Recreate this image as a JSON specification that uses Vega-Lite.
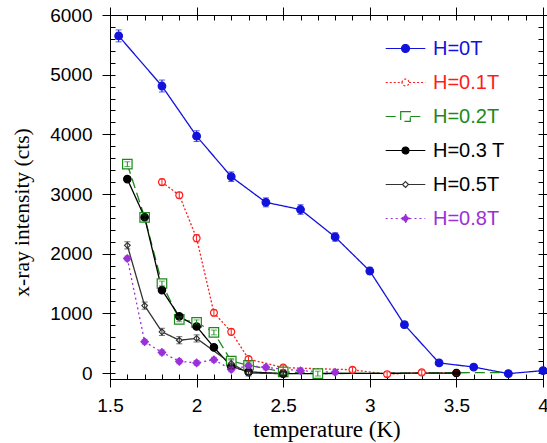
{
  "$schema": "https://vega.github.io/schema/vega-lite/v6.json",
  "width": 433,
  "height": 364,
  "autosize": {"type": "none"},
  "padding": {"left": 110, "top": 15, "right": 4, "bottom": 64},
  "background": "white",
  "config": {
    "view": {"stroke": "#000000", "strokeWidth": 1},
    "axis": {"domain": false, "grid": false, "tickColor": "#000000", "tickWidth": 1, "labelColor": "#000000", "titleColor": "#000000"},
    "legend": {"orient": "none", "legendX": 278, "legendY": 16, "padding": 0, "symbolSize": 1089, "symbolStrokeWidth": 1.2, "rowPadding": 6, "labelOffset": 10, "labelFont": "Liberation Sans", "labelFontSize": 20, "labelLimit": 200}
  },
  "data": {"values": [
    {"H": "H=0T", "T": 1.55, "I": 5650, "e": 100},
    {"H": "H=0T", "T": 1.8, "I": 4810, "e": 100},
    {"H": "H=0T", "T": 2.0, "I": 3970, "e": 90},
    {"H": "H=0T", "T": 2.2, "I": 3290, "e": 80},
    {"H": "H=0T", "T": 2.4, "I": 2860, "e": 75},
    {"H": "H=0T", "T": 2.6, "I": 2740, "e": 80},
    {"H": "H=0T", "T": 2.8, "I": 2280, "e": 70},
    {"H": "H=0T", "T": 3.0, "I": 1710, "e": 60},
    {"H": "H=0T", "T": 3.2, "I": 810, "e": 50},
    {"H": "H=0T", "T": 3.4, "I": 170, "e": 40},
    {"H": "H=0T", "T": 3.6, "I": 100, "e": 40},
    {"H": "H=0T", "T": 3.8, "I": -10, "e": 40},
    {"H": "H=0T", "T": 4.0, "I": 40, "e": 40},
    {"H": "H=0.1T", "T": 1.8, "I": 3200, "e": 50},
    {"H": "H=0.1T", "T": 1.9, "I": 2980, "e": 50},
    {"H": "H=0.1T", "T": 2.0, "I": 2260, "e": 60},
    {"H": "H=0.1T", "T": 2.1, "I": 1010, "e": 50},
    {"H": "H=0.1T", "T": 2.2, "I": 690, "e": 50},
    {"H": "H=0.1T", "T": 2.3, "I": 235, "e": 40},
    {"H": "H=0.1T", "T": 2.5, "I": 90, "e": 40},
    {"H": "H=0.1T", "T": 2.9, "I": 55, "e": 40},
    {"H": "H=0.1T", "T": 3.1, "I": -20, "e": 40},
    {"H": "H=0.1T", "T": 3.3, "I": 10, "e": 40},
    {"H": "H=0.1T", "T": 3.5, "I": 0, "e": 40},
    {"H": "H=0.2T", "T": 1.6, "I": 3500, "e": 40},
    {"H": "H=0.2T", "T": 1.7, "I": 2610, "e": 40},
    {"H": "H=0.2T", "T": 1.8, "I": 1500, "e": 40},
    {"H": "H=0.2T", "T": 1.9, "I": 900, "e": 40},
    {"H": "H=0.2T", "T": 2.0, "I": 850, "e": 40},
    {"H": "H=0.2T", "T": 2.1, "I": 680, "e": 40},
    {"H": "H=0.2T", "T": 2.2, "I": 200, "e": 40},
    {"H": "H=0.2T", "T": 2.3, "I": 130, "e": 40},
    {"H": "H=0.2T", "T": 2.5, "I": 20, "e": 40},
    {"H": "H=0.2T", "T": 2.7, "I": -10, "e": 40},
    {"H": "H=0.2T", "T": 3.8, "I": 10, "e": 40},
    {"H": "H=0.3 T", "T": 1.6, "I": 3250, "e": 40},
    {"H": "H=0.3 T", "T": 1.7, "I": 2610, "e": 40},
    {"H": "H=0.3 T", "T": 1.8, "I": 1390, "e": 40},
    {"H": "H=0.3 T", "T": 1.9, "I": 950, "e": 40},
    {"H": "H=0.3 T", "T": 2.0, "I": 780, "e": 40},
    {"H": "H=0.3 T", "T": 2.1, "I": 430, "e": 40},
    {"H": "H=0.3 T", "T": 2.2, "I": 110, "e": 40},
    {"H": "H=0.3 T", "T": 2.3, "I": 20, "e": 40},
    {"H": "H=0.3 T", "T": 2.5, "I": -10, "e": 40},
    {"H": "H=0.3 T", "T": 3.5, "I": 0, "e": 40},
    {"H": "H=0.5T", "T": 1.6, "I": 2140, "e": 60},
    {"H": "H=0.5T", "T": 1.7, "I": 1130, "e": 60},
    {"H": "H=0.5T", "T": 1.8, "I": 690, "e": 60},
    {"H": "H=0.5T", "T": 1.9, "I": 550, "e": 60},
    {"H": "H=0.5T", "T": 2.0, "I": 580, "e": 60},
    {"H": "H=0.5T", "T": 2.2, "I": 160, "e": 60},
    {"H": "H=0.5T", "T": 2.3, "I": 0, "e": 50},
    {"H": "H=0.5T", "T": 2.5, "I": -10, "e": 40},
    {"H": "H=0.8T", "T": 1.6, "I": 1920, "e": 40},
    {"H": "H=0.8T", "T": 1.7, "I": 525, "e": 40},
    {"H": "H=0.8T", "T": 1.8, "I": 346, "e": 40},
    {"H": "H=0.8T", "T": 1.9, "I": 196, "e": 40},
    {"H": "H=0.8T", "T": 2.0, "I": 170, "e": 40},
    {"H": "H=0.8T", "T": 2.1, "I": 223, "e": 40},
    {"H": "H=0.8T", "T": 2.2, "I": 60, "e": 40},
    {"H": "H=0.8T", "T": 2.3, "I": 122, "e": 40},
    {"H": "H=0.8T", "T": 2.4, "I": 95, "e": 40},
    {"H": "H=0.8T", "T": 2.6, "I": 39, "e": 40},
    {"H": "H=0.8T", "T": 2.8, "I": 12, "e": 40}
  ]},
  "resolve": {"axis": {"x": "independent", "y": "independent"}},
  "layer": [
    {
      "mark": {"type": "line", "strokeWidth": 1.3},
      "encoding": {
        "x": {"field": "T", "type": "quantitative",
          "scale": {"domain": [1.5, 4], "nice": false, "zero": false},
          "axis": {"orient": "bottom", "values": [1.5, 2, 2.5, 3, 3.5, 4], "format": "~g", "tickSize": 8, "labelPadding": 9, "labelFont": "Liberation Sans", "labelFontSize": 19, "labelFlush": false,
            "title": "temperature (K)", "titleFont": "Liberation Serif", "titleFontSize": 23, "titleFontWeight": "normal", "titleBaseline": "alphabetic", "titleY": 57}},
        "y": {"field": "I", "type": "quantitative",
          "scale": {"domain": [-100, 6000], "nice": false, "zero": false},
          "axis": {"orient": "left", "values": [0, 1000, 2000, 3000, 4000, 5000, 6000], "format": "d", "tickSize": 8, "labelPadding": 10, "labelFont": "Liberation Sans", "labelFontSize": 19, "labelFlush": false,
            "title": "x-ray intensity (cts)", "titleFont": "Liberation Serif", "titleFontSize": 21.5, "titleFontWeight": "normal", "titleBaseline": "alphabetic", "titleX": -82, "titleY": 197, "titleAngle": -90}},
        "color": {"field": "H", "type": "nominal",
          "scale": {"domain": ["H=0T", "H=0.1T", "H=0.2T", "H=0.3 T", "H=0.5T", "H=0.8T"], "range": ["#1212dc", "#ff1c1c", "#1b8a1b", "#000000", "#333333", "#9b30d8"]},
          "legend": {
            "title": null,
            "encode": {
              "symbols": {"update": {
                "shape": {"signal": "datum.value === 'H=0T' ? 'M-1.2,0H-0.24M0.24,0H1.2M-0.24,0A0.24,0.24,0,1,1,0.24,0A0.24,0.24,0,1,1,-0.24,0Z' : datum.value === 'H=0.1T' ? 'M-1.2,0H-0.21M0.21,0H1.2M-0.21,0A0.21,0.21,0,1,1,0.21,0A0.21,0.21,0,1,1,-0.21,0Z' : datum.value === 'H=0.2T' ? 'M-1.2,0H-0.29M0.29,0H1.2M-0.29,-0.29H0.29V0.29H-0.29Z' : datum.value === 'H=0.3 T' ? 'M-1.2,0H-0.21M0.21,0H1.2M-0.21,0A0.21,0.21,0,1,1,0.21,0A0.21,0.21,0,1,1,-0.21,0Z' : datum.value === 'H=0.5T' ? 'M-1.2,0H-0.18M0.18,0H1.2M-0.18,0L0,-0.18L0.18,0L0,0.18Z' : 'M-1.2,0H-0.24M0.24,0H1.2M-0.24,0L0,-0.24L0.24,0L0,0.24Z'"},
                "fill": {"signal": "datum.value === 'H=0T' ? '#1212dc' : datum.value === 'H=0.3 T' ? '#000000' : datum.value === 'H=0.8T' ? '#9b30d8' : '#ffffff'"},
                "fillOpacity": {"signal": "datum.value === 'H=0.1T' || datum.value === 'H=0.2T' || datum.value === 'H=0.5T' ? 0 : 1"},
                "stroke": {"signal": "datum.value === 'H=0T' ? '#1212dc' : datum.value === 'H=0.1T' ? '#ff1c1c' : datum.value === 'H=0.2T' ? '#1b8a1b' : datum.value === 'H=0.3 T' ? '#000000' : datum.value === 'H=0.5T' ? '#333333' : '#9b30d8'"},
                "strokeDash": {"signal": "datum.value === 'H=0.1T' ? [2, 2] : datum.value === 'H=0.2T' ? [10, 5] : datum.value === 'H=0.8T' ? [2, 3] : [1, 0]"},
                "strokeWidth": {"value": 1.2}
              }},
              "labels": {"update": {
                "fill": {"signal": "datum.value === 'H=0T' ? '#1212dc' : datum.value === 'H=0.1T' ? '#ff1c1c' : datum.value === 'H=0.2T' ? '#1b8a1b' : datum.value === 'H=0.3 T' ? '#000000' : datum.value === 'H=0.5T' ? '#000000' : '#9b30d8'"}
              }}
            }
          }},
        "strokeDash": {"field": "H", "type": "nominal", "legend": null,
          "scale": {"domain": ["H=0T", "H=0.1T", "H=0.2T", "H=0.3 T", "H=0.5T", "H=0.8T"], "range": [[1, 0], [2, 2], [10, 5], [1, 0], [1, 0], [2, 3]]}}
      }
    },
    {
      "transform": [{"filter": "datum.T <= 3.5 || datum.H != 'H=0.2T'"}],
      "mark": {"type": "point", "filled": false, "strokeWidth": 1.2, "opacity": 1},
      "encoding": {
        "x": {"field": "T", "type": "quantitative",
          "axis": {"orient": "bottom", "values": [1.5, 1.6, 1.7, 1.8, 1.9, 2, 2.1, 2.2, 2.3, 2.4, 2.5, 2.6, 2.7, 2.8, 2.9, 3, 3.1, 3.2, 3.3, 3.4, 3.5, 3.6, 3.7, 3.8, 3.9, 4], "tickSize": -5, "labels": false, "title": null}},
        "y": {"field": "I", "type": "quantitative",
          "axis": {"orient": "left", "values": [0, 200, 400, 600, 800, 1000, 1200, 1400, 1600, 1800, 2000, 2200, 2400, 2600, 2800, 3000, 3200, 3400, 3600, 3800, 4000, 4200, 4400, 4600, 4800, 5000, 5200, 5400, 5600, 5800, 6000], "tickSize": -5, "labels": false, "title": null}},
        "color": {"field": "H", "type": "nominal", "legend": null},
        "fill": {"condition": [
          {"test": "datum.H === 'H=0T'", "value": "#1212dc"},
          {"test": "datum.H === 'H=0.3 T'", "value": "#000000"},
          {"test": "datum.H === 'H=0.8T'", "value": "#9b30d8"}], "value": "#ffffff"},
        "shape": {"condition": [
          {"test": "datum.H === 'H=0.2T'", "value": "square"},
          {"test": "datum.H === 'H=0.5T' || datum.H === 'H=0.8T'", "value": "diamond"}], "value": "circle"},
        "size": {"condition": [
          {"test": "datum.H === 'H=0T'", "value": 58},
          {"test": "datum.H === 'H=0.1T'", "value": 48},
          {"test": "datum.H === 'H=0.2T'", "value": 90},
          {"test": "datum.H === 'H=0.5T'", "value": 32}], "value": 55}
      }
    },
    {
      "transform": [{"filter": "datum.T <= 3.5 || datum.H != 'H=0.2T'"}],
      "mark": {"type": "errorbar", "ticks": {"size": 6}, "thickness": 1},
      "encoding": {
        "x": {"field": "T", "type": "quantitative",
          "axis": {"orient": "top", "values": [1.5, 2, 2.5, 3, 3.5, 4], "tickSize": 8, "labels": false, "title": null}},
        "y": {"field": "I", "type": "quantitative",
          "axis": {"orient": "right", "values": [0, 1000, 2000, 3000, 4000, 5000, 6000], "tickSize": 8, "labels": false, "title": null}},
        "yError": {"field": "e"},
        "color": {"field": "H", "type": "nominal", "legend": null}
      }
    },
    {
      "mark": {"type": "point", "opacity": 0},
      "encoding": {
        "x": {"field": "T", "type": "quantitative",
          "axis": {"orient": "top", "values": [1.5, 1.6, 1.7, 1.8, 1.9, 2, 2.1, 2.2, 2.3, 2.4, 2.5, 2.6, 2.7, 2.8, 2.9, 3, 3.1, 3.2, 3.3, 3.4, 3.5, 3.6, 3.7, 3.8, 3.9, 4], "tickSize": -5, "labels": false, "title": null}},
        "y": {"field": "I", "type": "quantitative",
          "axis": {"orient": "right", "values": [0, 200, 400, 600, 800, 1000, 1200, 1400, 1600, 1800, 2000, 2200, 2400, 2600, 2800, 3000, 3200, 3400, 3600, 3800, 4000, 4200, 4400, 4600, 4800, 5000, 5200, 5400, 5600, 5800, 6000], "tickSize": -5, "labels": false, "title": null}}
      }
    }
  ]
}
